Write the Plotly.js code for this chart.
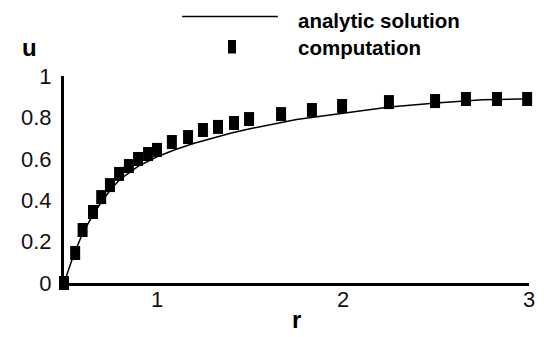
<!DOCTYPE html>
<html>
<head>
<meta charset="utf-8">
<script src="https://cdn.plot.ly/plotly-3.0.1.min.js"></script>
<style>
html,body{margin:0;padding:0;background:#fff;}
#chart{width:544px;height:337px;}
</style>
</head>
<body>
<div id="chart"></div>
<script>
// Analytic solution
const analyticR = [0.5, 0.55, 0.6, 0.65, 0.7, 0.75, 0.8, 0.9, 1.0, 1.1, 1.2, 1.3, 1.4, 1.5, 1.75, 2.0, 2.25, 2.5, 2.75, 3.0];
const analyticU = [0.0, 0.13, 0.24, 0.32, 0.39, 0.45, 0.50, 0.565, 0.61, 0.645, 0.675, 0.70, 0.725, 0.745, 0.79, 0.82, 0.85, 0.87, 0.885, 0.89];

// Computation
const compR = [0.5, 0.56, 0.6, 0.656, 0.7, 0.747, 0.796, 0.849, 0.898, 0.952, 1.0, 1.08, 1.167, 1.247, 1.328, 1.414, 1.495, 1.667, 1.833, 1.995, 2.247, 2.495, 2.661, 2.828, 2.99];
const compU = [0.0, 0.145, 0.256, 0.343, 0.415, 0.473, 0.527, 0.565, 0.599, 0.623, 0.643, 0.681, 0.705, 0.739, 0.754, 0.773, 0.792, 0.816, 0.836, 0.855, 0.874, 0.879, 0.889, 0.889, 0.889];

const xTicks = [1, 2, 3];
const yTicks = [0, 0.2, 0.4, 0.6, 0.8, 1];
const yTickText = ['0', '0.2', '0.4', '0.6', '0.8', '1'];

const legendNames = ['analytic solution', 'computation'];

const traces = [
  {
    x: analyticR, y: analyticU, mode: 'lines', name: legendNames[0],
    line: {color: '#000', width: 1.5}, showlegend: false, cliponaxis: false
  },
  {
    x: compR, y: compU, mode: 'markers', name: legendNames[1],
    marker: {symbol: 'line-ns-open', size: 10, color: '#000', line: {width: 10, color: '#000'}},
    showlegend: false, cliponaxis: false
  }
];

const tickFont = {family: 'Liberation Sans, Arial, sans-serif', size: 22, color: '#111'};
const boldFont = {family: 'Liberation Sans, Arial, sans-serif', size: 20.5, color: '#000', weight: 'bold'};
const titleFont = {family: 'Liberation Sans, Arial, sans-serif', size: 24, color: '#000', weight: 'bold'};

const layout = {
  width: 544, height: 337,
  margin: {l: 64, r: 15, t: 76, b: 54},
  paper_bgcolor: '#fff', plot_bgcolor: '#fff',
  showlegend: false,
  xaxis: {
    range: [0.5, 3], tickvals: xTicks, ticktext: xTicks.map(String),
    showgrid: false, zeroline: false, showline: true, linecolor: '#000', linewidth: 3,
    ticks: '', tickfont: tickFont, ticklabelstandoff: -5, fixedrange: true
  },
  yaxis: {
    range: [0, 1], tickvals: yTicks, ticktext: yTickText,
    showgrid: false, zeroline: false, showline: true, linecolor: '#000', linewidth: 3,
    ticks: '', tickfont: tickFont, ticklabelstandoff: 5, fixedrange: true
  },
  shapes: [
    {type: 'line', xref: 'paper', yref: 'paper', x0: 0.254, x1: 0.460, y0: 1.2874, y1: 1.2874,
     line: {color: '#000', width: 1.5}},
    {type: 'rect', xref: 'paper', yref: 'paper', x0: 0.3527, x1: 0.3699, y0: 1.1087, y1: 1.1739,
     fillcolor: '#000', line: {width: 0}}
  ],
  annotations: [
    {text: legendNames[0], xref: 'paper', yref: 'paper', x: 0.499, y: 1.268, xanchor: 'left', yanchor: 'middle',
     showarrow: false, font: boldFont},
    {text: legendNames[1], xref: 'paper', yref: 'paper', x: 0.499, y: 1.138, xanchor: 'left', yanchor: 'middle',
     showarrow: false, font: boldFont},
    {text: 'u', xref: 'paper', yref: 'paper', x: -0.074, y: 1.14, xanchor: 'center', yanchor: 'middle',
     showarrow: false, font: titleFont},
    {text: 'r', xref: 'paper', yref: 'paper', x: 0.499, y: -0.252, xanchor: 'center', yanchor: 'bottom',
     showarrow: false, font: titleFont}
  ]
};

Plotly.newPlot('chart', traces, layout, {displayModeBar: false, staticPlot: true});
</script>
</body>
</html>
